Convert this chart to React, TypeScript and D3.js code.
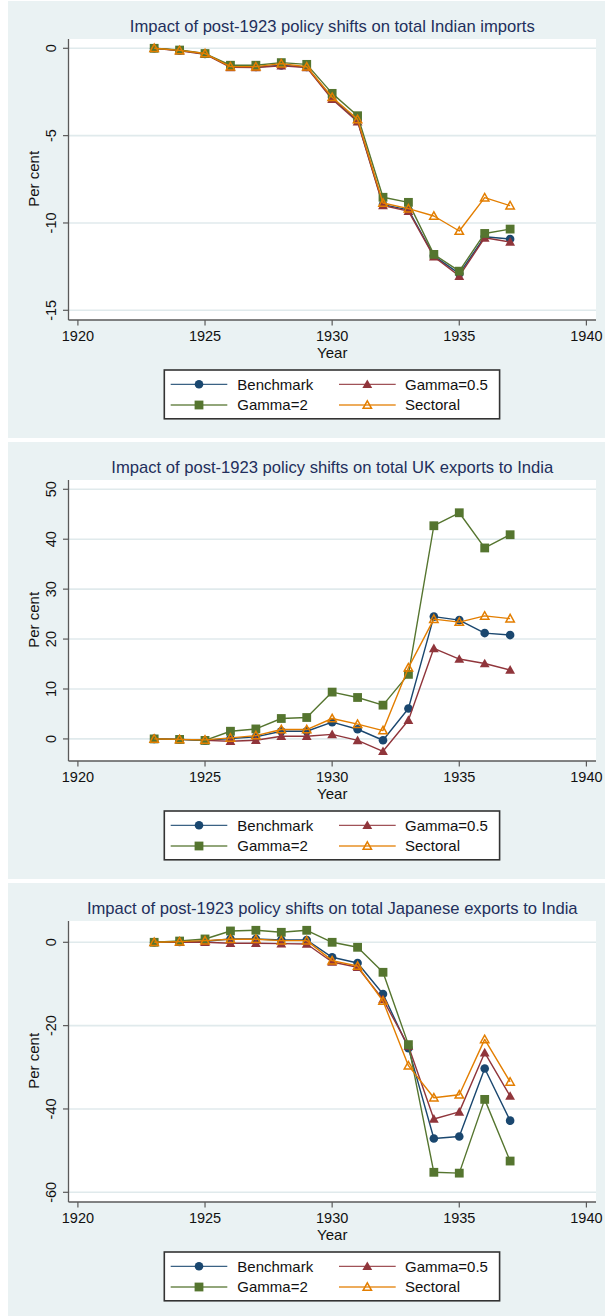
import React from "react";
import * as d3 from "d3";

// Simulation years
const years = [1923, 1924, 1925, 1926, 1927, 1928, 1929, 1930, 1931, 1932, 1933, 1934, 1935, 1936, 1937];
const xTicks = [1920, 1925, 1930, 1935, 1940];

const seriesNames = ["Benchmark", "Gamma=0.5", "Gamma=2", "Sectoral"];

// Total Indian imports (per cent)
const importsBenchmark = [0, -0.12, -0.32, -1.05, -1.07, -0.98, -1.07, -2.85, -4.15, -8.95, -9.25, -11.88, -12.9, -10.79, -10.92];
const importsGamma05 = [0, -0.14, -0.34, -1.09, -1.1, -1.0, -1.1, -2.92, -4.2, -9.0, -9.32, -11.93, -13.04, -10.85, -11.09];
const importsGamma2 = [0, -0.1, -0.3, -0.97, -0.97, -0.82, -0.92, -2.58, -3.86, -8.53, -8.82, -11.8, -12.76, -10.6, -10.35];
const importsSectoral = [0, -0.12, -0.3, -1.05, -1.05, -0.88, -1.06, -2.8, -4.07, -8.86, -9.18, -9.6, -10.46, -8.55, -9.01];
const importsTicks = [0, -5, -10, -15];

// UK exports to India (per cent)
const ukBenchmark = [0, -0.1, -0.3, 0.07, 0.4, 1.54, 1.54, 3.35, 1.94, -0.27, 6.1, 24.5, 23.8, 21.2, 20.8];
const ukGamma05 = [0, -0.1, -0.3, -0.47, -0.27, 0.54, 0.54, 0.9, -0.3, -2.48, 3.75, 18.15, 16.0, 15.1, 13.8];
const ukGamma2 = [0, -0.1, -0.3, 1.54, 2.0, 4.09, 4.29, 9.38, 8.3, 6.76, 12.93, 42.7, 45.3, 38.25, 40.9];
const ukSectoral = [0, -0.1, -0.2, 0.2, 0.67, 1.88, 1.88, 4.09, 2.95, 1.67, 14.27, 24.0, 23.4, 24.65, 24.1];
const ukTicks = [0, 10, 20, 30, 40, 50];

// Japanese exports to India (per cent)
const japanBenchmark = [0, 0.1, 0.24, 0.8, 0.8, 0.56, 0.56, -3.6, -4.96, -12.4, -25.4, -47.1, -46.6, -30.3, -42.8];
const japanGamma05 = [0, 0, 0, -0.24, -0.24, -0.32, -0.4, -4.72, -6.0, -13.7, -24.9, -42.4, -40.7, -26.5, -36.9];
const japanGamma2 = [0, 0.3, 0.8, 2.72, 2.88, 2.4, 2.88, 0, -1.2, -7.2, -24.56, -55.2, -55.4, -37.7, -52.5];
const japanSectoral = [0, 0.15, 0.4, 0.72, 0.72, 0.4, 0.4, -4.4, -5.68, -14.1, -29.6, -37.3, -36.6, -23.3, -33.5];
const japanTicks = [0, -20, -40, -60];

const titles = [
  "Impact of post-1923 policy shifts on total Indian imports",
  "Impact of post-1923 policy shifts on total UK exports to India",
  "Impact of post-1923 policy shifts on total Japanese exports to India",
];

const W = 605;
const H = 1316;
const FONT = "'Liberation Sans', Arial, Helvetica, sans-serif";
const BG = "#EAF2F3";
const GRID = "#E0EAEC";
const AXIS = "#5a5a5a";
const TITLE_COLOR = "#222F5C";

const COLORS = ["#1A476F", "#90353B", "#55752F", "#E37E00"];
const SYMBOLS = ["circle", "triangle", "square", "hollowTriangle"];

const panelTops = [1, 442, 883];
const panelH = 437;

// plot region (relative to panel top)
const box = { left: 68.5, right: 596, top: 38, bottom: 319 };
const inner = { left: 77.9, right: 586.4, top: 47.3, bottom: 309.3 };

function Marker({ kind, color, x, y }: { kind: string; color: string; x: number; y: number }) {
  if (kind === "circle") return <circle cx={x} cy={y} r={4.3} fill={color} />;
  if (kind === "square") return <rect x={x - 4.4} y={y - 4.4} width={8.8} height={8.8} fill={color} />;
  const s = 4.9;
  const pts = `${x},${y - s * 1.0} ${x - s},${y + s * 0.78} ${x + s},${y + s * 0.78}`;
  if (kind === "triangle") return <polygon points={pts} fill={color} />;
  const h = 4.2;
  const p2 = `${x},${y - h * 1.0} ${x - h},${y + h * 0.78} ${x + h},${y + h * 0.78}`;
  return <polygon points={p2} fill="none" stroke={color} strokeWidth={1.5} strokeLinejoin="miter" />;
}

function Panel({ top, title, series, ticks }: { top: number; title: string; series: number[][]; ticks: number[] }) {
  const all = series.flat().concat(ticks);
  const [lo, hi] = d3.extent(all) as [number, number];
  const x = d3.scaleLinear().domain([xTicks[0], xTicks[xTicks.length - 1]]).range([inner.left, inner.right]);
  const y = d3.scaleLinear().domain([lo, hi]).range([top + inner.bottom, top + inner.top]);
  const line = d3
    .line<number>()
    .x((_, i) => x(years[i]))
    .y((d) => y(d));

  const cx = (box.left + box.right) / 2;
  const legendTop = top + 369;
  const rows = [top + 383.3, top + 404];
  const cols = [
    { l0: 170.7, l1: 227.3, m: 199, t: 237.3 },
    { l0: 339, l1: 395.7, m: 367.3, t: 405 },
  ];

  return (
    <g>
      <rect x={8} y={top} width={W - 8} height={panelH} fill={BG} />
      <text x={cx} y={top + 31} textAnchor="middle" fontSize={16.6} fill={TITLE_COLOR} fontFamily={FONT}>
        {title}
      </text>
      <rect x={box.left} y={top + box.top} width={box.right - box.left} height={box.bottom - box.top} fill="#fff" />
      {ticks.map((t) => (
        <line key={"g" + t} x1={box.left} x2={box.right} y1={y(t)} y2={y(t)} stroke={GRID} strokeWidth={1.6} />
      ))}
      {/* y axis */}
      <line x1={box.left} x2={box.left} y1={top + box.top} y2={top + box.bottom} stroke={AXIS} strokeWidth={1.3} />
      {ticks.map((t) => (
        <g key={"yt" + t}>
          <line x1={box.left - 5.5} x2={box.left} y1={y(t)} y2={y(t)} stroke={AXIS} strokeWidth={1.2} />
          <text
            transform={`translate(${55.5},${y(t)}) rotate(-90)`}
            textAnchor="middle"
            fontSize={14.5}
            fontFamily={FONT}
            fill="#111"
          >
            {t}
          </text>
        </g>
      ))}
      <text
        transform={`translate(${39.4},${top + 177.8}) rotate(-90)`}
        textAnchor="middle"
        fontSize={15}
        fontFamily={FONT}
        fill="#111"
      >
        Per cent
      </text>
      {/* x axis */}
      <line x1={box.left} x2={box.right} y1={top + box.bottom} y2={top + box.bottom} stroke={AXIS} strokeWidth={1.3} />
      {xTicks.map((t) => (
        <g key={"xt" + t}>
          <line x1={x(t)} x2={x(t)} y1={top + box.bottom} y2={top + box.bottom + 5.5} stroke={AXIS} strokeWidth={1.2} />
          <text x={x(t)} y={top + 340.3} textAnchor="middle" fontSize={14.5} fontFamily={FONT} fill="#111">
            {t}
          </text>
        </g>
      ))}
      <text x={cx} y={top + 357.3} textAnchor="middle" fontSize={15} fontFamily={FONT} fill="#111">
        Year
      </text>
      {/* series */}
      {series.map((vals, si) => (
        <g key={"s" + si}>
          <path d={line(vals) || ""} fill="none" stroke={COLORS[si]} strokeWidth={1.4} strokeLinejoin="round" />
          {vals.map((v, i) => (
            <Marker key={i} kind={SYMBOLS[si]} color={COLORS[si]} x={x(years[i])} y={y(v)} />
          ))}
        </g>
      ))}
      {/* legend */}
      <rect x={164.3} y={legendTop} width={499.6 - 164.3} height={48.8} fill="#fff" stroke="#333" strokeWidth={1.6} />
      {seriesNames.map((name, si) => {
        const c = cols[si % 2];
        const ry = rows[Math.floor(si / 2)];
        return (
          <g key={"l" + si}>
            <line x1={c.l0} x2={c.l1} y1={ry} y2={ry} stroke={COLORS[si]} strokeWidth={1.3} opacity={0.85} />
            <Marker kind={SYMBOLS[si]} color={COLORS[si]} x={c.m} y={ry} />
            <text x={c.t} y={ry + 5.4} fontSize={15} fontFamily={FONT} fill="#111">
              {name}
            </text>
          </g>
        );
      })}
    </g>
  );
}

export default function App() {
  const panels = [
    { title: titles[0], series: [importsBenchmark, importsGamma05, importsGamma2, importsSectoral], ticks: importsTicks },
    { title: titles[1], series: [ukBenchmark, ukGamma05, ukGamma2, ukSectoral], ticks: ukTicks },
    { title: titles[2], series: [japanBenchmark, japanGamma05, japanGamma2, japanSectoral], ticks: japanTicks },
  ];
  return (
    <svg
      width={W}
      height={H}
      viewBox={`0 0 ${W} ${H}`}
      style={{ position: "absolute", left: 0, top: 0, background: "#fff" }}
    >
      {panels.map((p, i) => (
        <Panel key={i} top={panelTops[i]} title={p.title} series={p.series} ticks={p.ticks} />
      ))}
    </svg>
  );
}
